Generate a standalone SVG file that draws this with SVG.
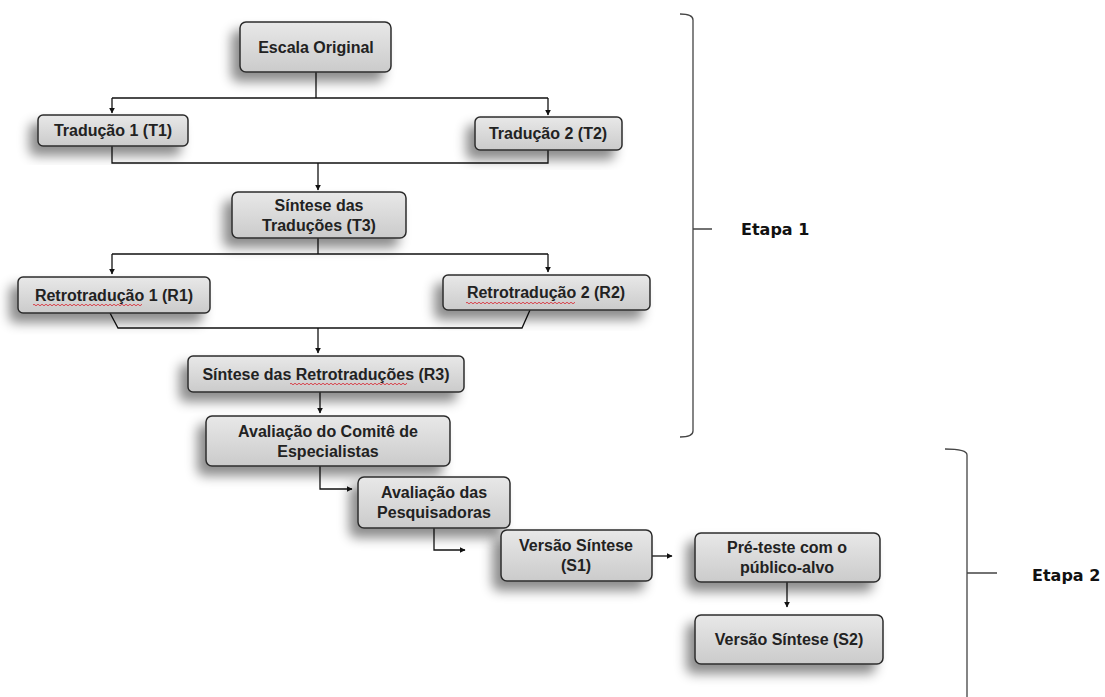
<svg xmlns="http://www.w3.org/2000/svg" width="1105" height="697" viewBox="0 0 1105 697">
<defs>
<linearGradient id="g" x1="0" y1="0" x2="0" y2="1">
<stop offset="0" stop-color="#e8e8e8"/>
<stop offset="1" stop-color="#cbcbcb"/>
</linearGradient>
<filter id="sh" x="-30%" y="-40%" width="160%" height="200%">
<feDropShadow dx="-8" dy="9" stdDeviation="6" flood-color="#000" flood-opacity="0.45"/>
</filter>
<marker id="ar" viewBox="0 0 10 10" refX="9" refY="5" markerWidth="6" markerHeight="6" orient="auto" markerUnits="userSpaceOnUse">
<path d="M0,0 L10,5 L0,10 z" fill="#111"/>
</marker>
<pattern id="wv" width="4" height="4" patternUnits="userSpaceOnUse">
<path d="M0,2 Q1,0.5 2,2 T4,2" fill="none" stroke="#d8303a" stroke-width="0.9"/>
</pattern>
</defs>
<style>
.box{fill:url(#g);stroke:#2b2b2b;stroke-width:1.5;filter:url(#sh)}
.t{font-family:"Liberation Sans",Arial,sans-serif;font-weight:bold;font-size:16px;fill:#222;text-anchor:middle}
.c{fill:none;stroke:#111;stroke-width:1.3}
.br{fill:none;stroke:#444;stroke-width:1.3}
.lab{font-family:"DejaVu Sans",Verdana,sans-serif;font-weight:bold;font-size:16px;fill:#111}
.sq{fill:url(#wv)}
</style>
<rect width="1105" height="697" fill="#fff"/>

<g id="connectors">
<path class="c" d="M316,72 V98 M112,98 H548"/>
<path class="c" d="M112,98 V113" marker-end="url(#ar)"/>
<path class="c" d="M548,98 V115" marker-end="url(#ar)"/>
<path class="c" d="M112,146 V163 H548 V150"/>
<path class="c" d="M318,163 V190" marker-end="url(#ar)"/>
<path class="c" d="M318,238 V254 M112,254 H548"/>
<path class="c" d="M112,254 V274" marker-end="url(#ar)"/>
<path class="c" d="M548,254 V272" marker-end="url(#ar)"/>
<path class="c" d="M110,313 L118,328 H522 L530,310"/>
<path class="c" d="M318,328 V353" marker-end="url(#ar)"/>
<path class="c" d="M320,392 V413" marker-end="url(#ar)"/>
<path class="c" d="M320,466 V489 H352" marker-end="url(#ar)"/>
<path class="c" d="M434,528 V550 H465" marker-end="url(#ar)"/>
<path class="c" d="M652,556 H672" marker-end="url(#ar)"/>
<path class="c" d="M787,582 V607" marker-end="url(#ar)"/>
</g>

<g id="n-escala"><rect class="box" x="240" y="22" width="151" height="50" rx="6"/><text class="t" x="316" y="53">Escala Original</text></g>
<g id="n-t1"><rect class="box" x="38" y="115" width="150" height="31" rx="5"/><text class="t" x="113" y="136">Tradução 1 (T1)</text></g>
<g id="n-t2"><rect class="box" x="475" y="117" width="147" height="33" rx="5"/><text class="t" x="548" y="139">Tradução 2 (T2)</text></g>
<g id="n-t3"><rect class="box" x="232" y="192" width="174" height="46" rx="6"/><text class="t" x="319" y="210.5">Síntese das</text><text class="t" x="319" y="230.5">Traduções (T3)</text></g>
<g id="n-r1"><rect class="box" x="18" y="277" width="192" height="36" rx="5"/><text class="t" x="114" y="300.5">Retrotradução 1 (R1)</text><rect class="sq" x="0" y="0" width="109" height="4" transform="translate(33,303)"/></g>
<g id="n-r2"><rect class="box" x="443" y="275" width="207" height="35" rx="5"/><text class="t" x="546" y="298">Retrotradução 2 (R2)</text><rect class="sq" x="0" y="0" width="109" height="4" transform="translate(466,301)"/></g>
<g id="n-r3"><rect class="box" x="188" y="356" width="276" height="36" rx="5"/><text class="t" x="326" y="379.5">Síntese das Retrotraduções (R3)</text><rect class="sq" x="0" y="0" width="117" height="4" transform="translate(290,382)"/></g>
<g id="n-comite"><rect class="box" x="206" y="416" width="244" height="50" rx="6"/><text class="t" x="328" y="436.5">Avaliação do Comitê de</text><text class="t" x="328" y="456.5">Especialistas</text></g>
<g id="n-pesq"><rect class="box" x="358" y="477" width="152" height="51" rx="6"/><text class="t" x="434" y="498">Avaliação das</text><text class="t" x="434" y="518">Pesquisadoras</text></g>
<g id="n-s1"><rect class="box" x="501" y="530" width="151" height="51" rx="6"/><text class="t" x="576" y="551">Versão Síntese</text><text class="t" x="576" y="571">(S1)</text></g>
<g id="n-pre"><rect class="box" x="695" y="533" width="185" height="49" rx="6"/><text class="t" x="787" y="553">Pré-teste com o</text><text class="t" x="787" y="573">público-alvo</text></g>
<g id="n-s2"><rect class="box" x="695" y="615" width="188" height="49" rx="6"/><text class="t" x="789" y="645">Versão Síntese (S2)</text></g>

<g id="etapa1">
<path class="br" d="M680,14 Q693,14 693,20 V431 Q693,437 680,437 M693,229 H712"/>
<text class="lab" x="741" y="235">Etapa 1</text>
</g>
<g id="etapa2">
<path class="br" d="M945,449 Q967,449 967,455 V697 M967,573 H997"/>
<text class="lab" x="1032" y="581">Etapa 2</text>
</g>
</svg>
